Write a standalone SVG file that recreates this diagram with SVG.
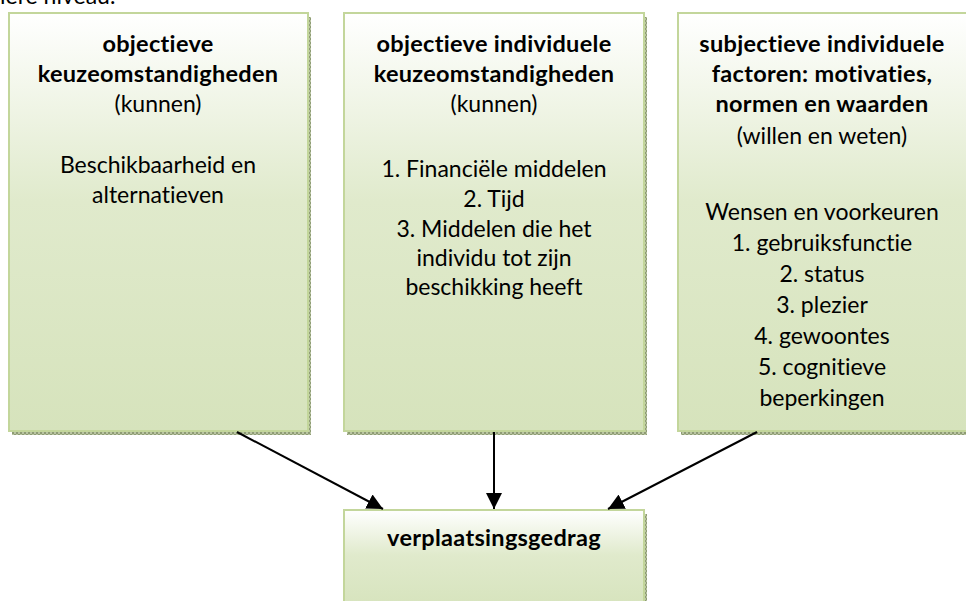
<svg xmlns="http://www.w3.org/2000/svg" width="966" height="601" viewBox="0 0 966 601">
<style>
.box{fill:url(#g);stroke:#c3d69b;stroke-width:2}
.sh{fill:url(#hatch)}
.t{font-family:Lato,"Open Sans","Liberation Sans",sans-serif;font-size:23px;fill:#000;text-anchor:middle;font-variant-ligatures:none;font-feature-settings:"liga" 0,"dlig" 0}
.b{font-weight:bold;font-size:23.5px;letter-spacing:0.3px}
.conn line{stroke:#000;stroke-width:2;marker-end:url(#ah)}
</style>
<defs>
<linearGradient id="g" x1="0" y1="0" x2="0" y2="1">
<stop offset="0" stop-color="#ffffff"/>
<stop offset="0.45" stop-color="#e0eacc"/>
<stop offset="1" stop-color="#d6e3bc"/>
</linearGradient>
<pattern id="hatch" width="4" height="4" patternUnits="userSpaceOnUse">
<rect width="4" height="4" fill="#b9c4a2"/>
<rect width="2" height="2" fill="#8e9c74"/>
<rect x="2" y="2" width="2" height="2" fill="#8e9c74"/>
</pattern>
<marker id="ah" viewBox="0 0 10 10" refX="10" refY="5" markerWidth="8" markerHeight="8" markerUnits="strokeWidth" orient="auto">
<path d="M0,0 L10,5 L0,10 z" fill="#000"/>
</marker>
</defs>
<text class="t" x="0" y="4" style="text-anchor:start">iere niveau.</text>
<g id="box1">
<rect class="sh" x="12" y="17" width="299" height="418"/>
<rect class="box" x="9" y="13" width="299" height="418"/>
<text class="t b" x="158" y="52">objectieve</text>
<text class="t b" x="158" y="82">keuzeomstandigheden</text>
<text class="t" x="158" y="112">(kunnen)</text>
<text class="t" x="158" y="173">Beschikbaarheid en</text>
<text class="t" x="158" y="203">alternatieven</text>
</g>
<g id="box2">
<rect class="sh" x="347" y="17" width="300" height="418"/>
<rect class="box" x="344" y="13" width="300" height="418"/>
<text class="t b" x="494" y="52">objectieve individuele</text>
<text class="t b" x="494" y="82">keuzeomstandigheden</text>
<text class="t" x="494" y="112">(kunnen)</text>
<text class="t" x="494" y="177">1. Financiële middelen</text>
<text class="t" x="494" y="207">2. Tijd</text>
<text class="t" x="494" y="237">3. Middelen die het</text>
<text class="t" x="494" y="266">individu tot zijn</text>
<text class="t" x="494" y="295">beschikking heeft</text>
</g>
<g id="box3">
<rect class="sh" x="681" y="17" width="300" height="418"/>
<rect class="box" x="678" y="13" width="300" height="418"/>
<text class="t b" x="822" y="52">subjectieve individuele</text>
<text class="t b" x="822" y="82">factoren: motivaties,</text>
<text class="t b" x="822" y="112">normen en waarden</text>
<text class="t" x="822" y="144">(willen en weten)</text>
<text class="t" x="822" y="220">Wensen en voorkeuren</text>
<text class="t" x="822" y="251">1. gebruiksfunctie</text>
<text class="t" x="822" y="282">2. status</text>
<text class="t" x="822" y="313">3. plezier</text>
<text class="t" x="822" y="344">4. gewoontes</text>
<text class="t" x="822" y="375">5. cognitieve</text>
<text class="t" x="822" y="406">beperkingen</text>
</g>
<g id="target">
<rect class="sh" x="347" y="514" width="300" height="100"/>
<rect class="box" x="344" y="510" width="300" height="100"/>
<text class="t b" x="494" y="546">verplaatsingsgedrag</text>
</g>
<g id="connectors" class="conn">
<line x1="237" y1="432" x2="383" y2="509"/>
<line x1="494" y1="432" x2="494" y2="509"/>
<line x1="757" y1="432" x2="608" y2="509"/>
</g>
</svg>
